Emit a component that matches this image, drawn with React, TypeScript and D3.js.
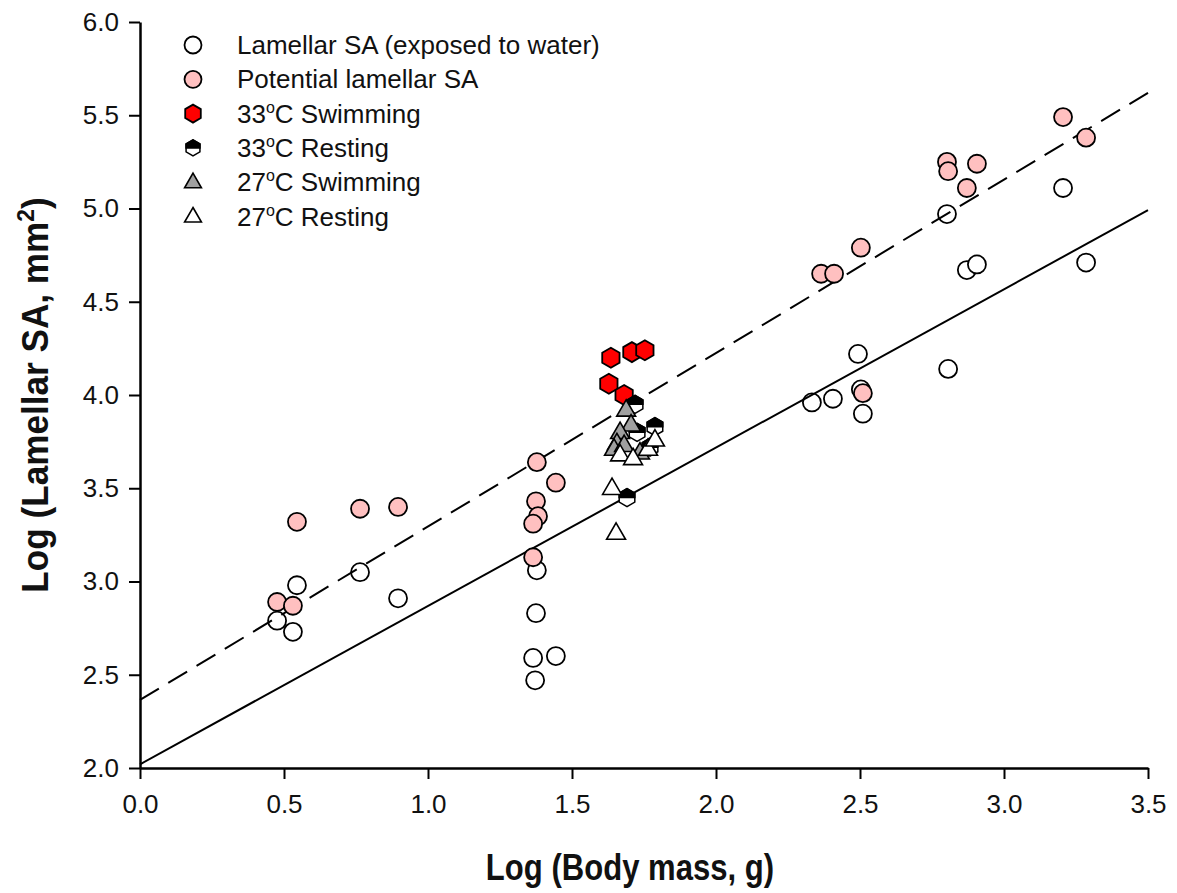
import React, { useRef, useEffect } from 'react';
import * as d3 from 'd3';

// Lamellar SA exposed to water (open circles)
const lamellarX = [0.476, 0.531, 0.545, 0.764, 0.896, 1.378, 1.375, 1.365, 1.444, 1.372, 2.333, 2.406, 2.493, 2.503, 2.51, 2.806, 2.802, 2.871, 2.906, 3.205, 3.285];
const lamellarY = [2.79, 2.73, 2.98, 3.05, 2.91, 3.06, 2.83, 2.59, 2.60, 2.47, 3.96, 3.98, 4.22, 4.03, 3.90, 4.14, 4.97, 4.67, 4.70, 5.11, 4.71];

// Potential lamellar SA (pink circles)
const potentialX = [0.476, 0.531, 0.545, 0.764, 0.896, 1.378, 1.444, 1.375, 1.382, 1.365, 1.365, 2.365, 2.41, 2.503, 2.51, 2.802, 2.806, 2.906, 2.871, 3.205, 3.285];
const potentialY = [2.89, 2.87, 3.32, 3.39, 3.40, 3.64, 3.53, 3.43, 3.35, 3.31, 3.13, 4.65, 4.65, 4.79, 4.01, 5.25, 5.20, 5.24, 5.11, 5.49, 5.38];

// 33C swimming (red hexagons)
const swim33X = [1.635, 1.708, 1.753, 1.628, 1.681];
const swim33Y = [4.20, 4.23, 4.24, 4.06, 4.00];

// 33C resting (half black hexagons)
const rest33X = [1.719, 1.788, 1.726, 1.771, 1.691];
const rest33Y = [3.95, 3.83, 3.80, 3.72, 3.45];

// 27C swimming (grey triangles)
const swim27X = [1.688, 1.705, 1.667, 1.656, 1.646, 1.736, 1.681];
const swim27Y = [3.92, 3.84, 3.80, 3.74, 3.71, 3.69, 3.73];

// 27C resting (open triangles)
const rest27X = [1.639, 1.653, 1.667, 1.712, 1.764, 1.788];
const rest27Y = [3.50, 3.26, 3.68, 3.66, 3.71, 3.76];

// regression lines: [intercept, slope]
const fitExposed = [2.02, 0.849];
const fitPotential = [2.365, 0.93];

const xTicks = [0, 0.5, 1, 1.5, 2, 2.5, 3, 3.5];
const yTicks = [2, 2.5, 3, 3.5, 4, 4.5, 5, 5.5, 6];

const legendLabels = [
  ['Lamellar SA (exposed to water)', ''],
  ['Potential lamellar SA', ''],
  ['33', 'C Swimming'],
  ['33', 'C Resting'],
  ['27', 'C Swimming'],
  ['27', 'C Resting'],
];

const W = 1177;
const H = 893;
const FONT = "'Liberation Sans', Arial, sans-serif";

const hexPath = (r: number) => {
  const w = r * Math.cos(Math.PI / 6);
  return `M0,${-r}L${w},${-r / 2}L${w},${r / 2}L0,${r}L${-w},${r / 2}L${-w},${-r / 2}Z`;
};
const hexTopPath = (r: number) => {
  const w = r * Math.cos(Math.PI / 6);
  return `M${-w},0L${-w},${-r / 2}L0,${-r}L${w},${-r / 2}L${w},0Z`;
};
const triPath = (s: number) => {
  const h = s * Math.sqrt(3) / 2;
  return `M0,${-h * 0.62}L${s / 2},${h * 0.38}L${-s / 2},${h * 0.38}Z`;
};

const Marker = ({ kind, size }: { kind: number; size: number }) => {
  if (kind === 0) return <circle r={size} fill="#fff" stroke="#000" strokeWidth={1.8} />;
  if (kind === 1) return <circle r={size} fill="#ffc0c0" stroke="#000" strokeWidth={1.8} />;
  if (kind === 2) return <path d={hexPath(size + 1)} fill="#ff0000" stroke="#000" strokeWidth={1.8} />;
  if (kind === 3)
    return (
      <g>
        <path d={hexPath(size)} fill="#fff" stroke="#000" strokeWidth={1.5} />
        <path d={hexTopPath(size)} fill="#000" stroke="#000" strokeWidth={1.5} />
      </g>
    );
  if (kind === 4) return <path d={triPath(size * 2.1)} fill="#a0a0a0" stroke="#000" strokeWidth={1.6} />;
  return <path d={triPath(size * 2.1)} fill="#fff" stroke="#000" strokeWidth={1.6} />;
};

const App = () => {
  const xAxisRef = useRef<SVGGElement>(null);
  const yAxisRef = useRef<SVGGElement>(null);

  const x = d3.scaleLinear().domain([0, 3.5]).range([140, 1148]);
  const y = d3.scaleLinear().domain([2, 6]).range([768, 22]);

  useEffect(() => {
    const xa = d3.select(xAxisRef.current!);
    xa.call(
      d3.axisBottom(x).tickValues(xTicks).tickFormat(d3.format('.1f')).tickSize(11).tickSizeOuter(0).tickPadding(16) as any
    );
    const ya = d3.select(yAxisRef.current!);
    ya.call(
      d3.axisLeft(y).tickValues(yTicks).tickFormat(d3.format('.1f')).tickSize(11).tickSizeOuter(0).tickPadding(10) as any
    );
    [xa, ya].forEach((a) => {
      a.selectAll('text').attr('font-size', 26).attr('font-family', FONT).attr('fill', '#111');
      a.selectAll('line').attr('stroke', '#000').attr('stroke-width', 2);
      a.select('.domain').attr('stroke', '#000').attr('stroke-width', 2.5);
    });
  }, []);

  const fitLine = (fit: number[]) =>
    d3.line<number>().x((d) => x(d)).y((d) => y(fit[0] + fit[1] * d))([0, 3.5]) as string;

  const pts = (xs: number[], ys: number[]) => xs.map((v, i) => [v, ys[i]]);
  const groups: [number, number[][]][] = [
    [2, pts(swim33X, swim33Y)],
    [3, pts(rest33X, rest33Y)],
    [4, pts(swim27X, swim27Y)],
    [5, pts(rest27X, rest27Y)],
  ];

  return (
    <svg width={W} height={H} style={{ position: 'absolute', left: 0, top: 0, background: '#fff' }}>
      {pts(lamellarX, lamellarY).map((p, i) => (
        <g key={'l' + i} transform={`translate(${x(p[0])},${y(p[1])})`}>
          <Marker kind={0} size={9} />
        </g>
      ))}
      <path d={fitLine(fitExposed)} fill="none" stroke="#000" strokeWidth={2} />
      <path d={fitLine(fitPotential)} fill="none" stroke="#000" strokeWidth={2} strokeDasharray="22,11" />
      {pts(potentialX, potentialY).map((p, i) => (
        <g key={'p' + i} transform={`translate(${x(p[0])},${y(p[1])})`}>
          <Marker kind={1} size={9} />
        </g>
      ))}
      {groups.map(([k, arr]) =>
        arr.map((p, i) => (
          <g key={k + '-' + i} transform={`translate(${x(p[0])},${y(p[1])})`}>
            <Marker kind={k} size={9} />
          </g>
        ))
      )}
      <g ref={xAxisRef} transform={`translate(0,${y(2)})`} />
      <g ref={yAxisRef} transform={`translate(${x(0)},0)`} />

      {legendLabels.map((lab, i) => {
        const cy = 45 + i * 34.3;
        return (
          <g key={'lg' + i}>
            <g transform={`translate(193,${cy})`}>
              <Marker kind={i} size={i >= 2 ? 8 : 8.5} />
            </g>
            <text x={237} y={cy + 9} fontSize={26} fontFamily={FONT} fill="#111">
              {lab[0]}
              {lab[1] && (
                <>
                  <tspan dy={-10} fontSize={16}>o</tspan>
                  <tspan dy={10}>{lab[1]}</tspan>
                </>
              )}
            </text>
          </g>
        );
      })}

      <text
        transform="translate(630,880) scale(0.84,1)"
        textAnchor="middle"
        fontSize={37}
        fontWeight="bold"
        fontFamily={FONT}
        fill="#111"
      >
        Log (Body mass, g)
      </text>
      <text
        transform="translate(48,395) rotate(-90) scale(0.95,1)"
        textAnchor="middle"
        fontSize={37}
        fontWeight="bold"
        fontFamily={FONT}
        fill="#111"
      >
        Log (Lamellar SA, mm
        <tspan dy={-14} fontSize={24}>2</tspan>
        <tspan dy={14}>)</tspan>
      </text>
    </svg>
  );
};

export default App;
